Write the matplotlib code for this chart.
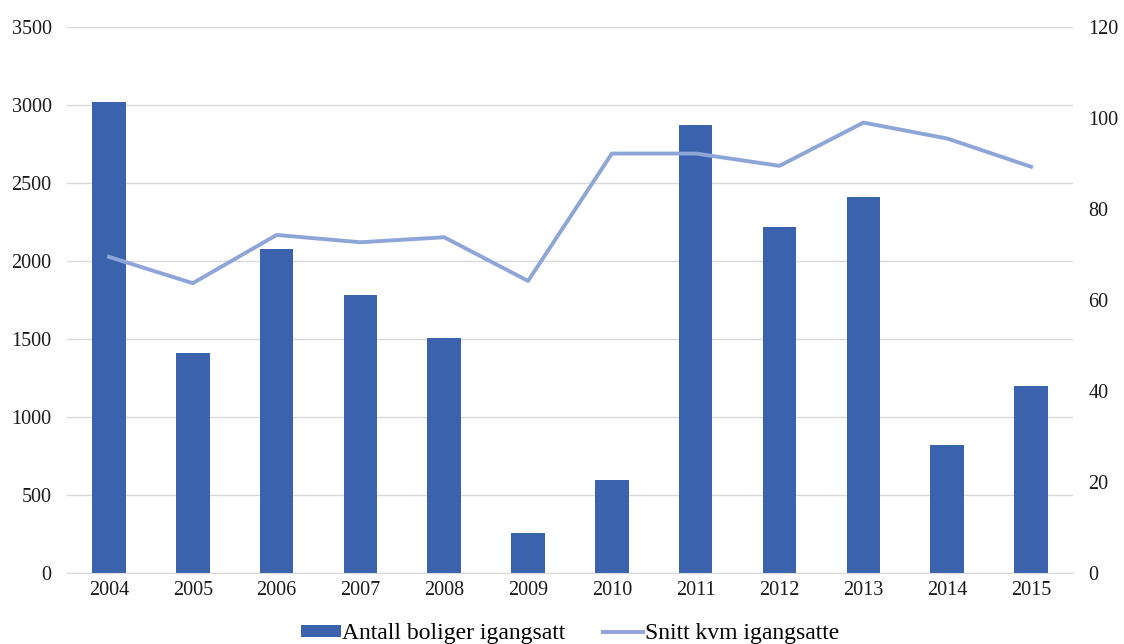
import matplotlib
matplotlib.use("Agg")
import matplotlib.pyplot as plt
import numpy as np

years = ["2004", "2005", "2006", "2007", "2008", "2009", "2010", "2011", "2012", "2013", "2014", "2015"]
antall = [3020, 1410, 2075, 1780, 1505, 255, 595, 2870, 2218, 2410, 820, 1200]
snitt = [69.5, 63.7, 74.3, 72.7, 73.8, 64.2, 92.2, 92.2, 89.5, 99.0, 95.5, 89.3]

plt.rcParams['font.family'] = ['Liberation Serif', 'DejaVu Serif']

fig = plt.figure(figsize=(11.24, 6.44), dpi=100)
ax = fig.add_axes([0.0596, 0.1102, 0.8950, 0.8478])
ax2 = ax.twinx()

x = np.arange(len(years))
bar_color = "#3A62AD"
line_color = "#8EA5D8"

ax.set_axisbelow(True)
ax.grid(axis='y', color='#D9D9D9', linewidth=1)
b = ax.bar(x, antall, width=0.4, color=bar_color, label="Antall boliger igangsatt", zorder=2)
l, = ax2.plot(x, snitt, color=line_color, linewidth=2.8, label="Snitt kvm igangsatte", zorder=3)

ax.set_xlim(-0.5, len(years) - 0.5)
ax.set_ylim(0, 3500)
ax.set_yticks(np.arange(0, 3501, 500))
ax2.set_ylim(0, 120)
ax2.set_yticks(np.arange(0, 121, 20))
ax.set_xticks(x)
ax.set_xticklabels(years)

for a in (ax, ax2):
    for s in a.spines.values():
        s.set_visible(False)
    a.tick_params(length=0, labelsize=14.5, colors='#1a1a1a')
ax.spines['bottom'].set_visible(True)
ax.spines['bottom'].set_color('#D9D9D9')
ax.tick_params(axis='y', pad=11)
ax2.tick_params(axis='y', pad=11)
ax.tick_params(axis='x', pad=6)

fig.legend([b, l], ["Antall boliger igangsatt", "Snitt kvm igangsatte"],
           loc='lower center', bbox_to_anchor=(0.507, -0.033), ncol=2, frameon=False,
           fontsize=17, handlelength=1.7, handleheight=0.4, columnspacing=1.6, handletextpad=0.05)

fig.savefig("out.png", dpi=100)
